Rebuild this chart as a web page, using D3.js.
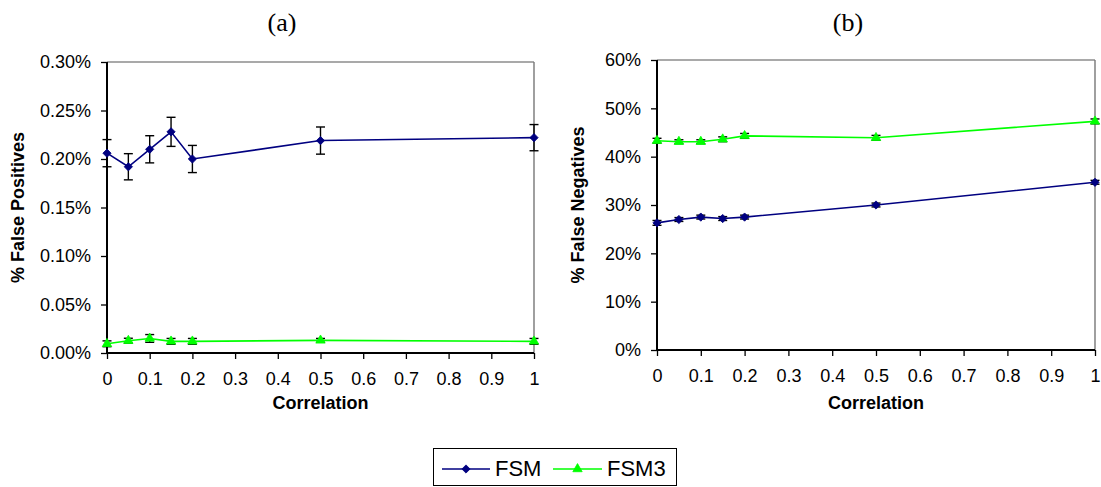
<!DOCTYPE html>
<html>
<head>
<meta charset="utf-8">
<script src="https://cdn.jsdelivr.net/npm/d3@7"></script>
<style>
  html, body { margin: 0; padding: 0; background: #fff; }
  svg { display: block; }
  text { font-family: "Liberation Sans", Arial, sans-serif; fill: #000; }
</style>
</head>
<body>
<svg id="chart" width="1101" height="487"></svg>
<script>
// Correlation levels (x values)
const correlation = [0, 0.05, 0.1, 0.15, 0.2, 0.5, 1];
const xTicks = [0, 0.1, 0.2, 0.3, 0.4, 0.5, 0.6, 0.7, 0.8, 0.9, 1];

// (a) false positive rate, in percent
const fpFSM     = [0.206, 0.192, 0.210, 0.228, 0.200, 0.219, 0.222];
const fpFSMErr  = [0.014, 0.0135, 0.014, 0.015, 0.014, 0.014, 0.0135];
const fpFSM3    = [0.0095, 0.0127, 0.015, 0.012, 0.012, 0.013, 0.012];
const fpFSM3Err = [0.003, 0.0025, 0.004, 0.003, 0.003, 0.002, 0.003];
const fpTicks   = [0, 0.05, 0.10, 0.15, 0.20, 0.25, 0.30];

// (b) false negative rate, in percent
const fnFSM     = [26.3, 27.0, 27.5, 27.2, 27.5, 30.0, 34.7];
const fnFSMErr  = [0.5, 0.4, 0.4, 0.4, 0.4, 0.4, 0.4];
const fnFSM3    = [43.3, 43.1, 43.1, 43.6, 44.3, 43.9, 47.3];
const fnFSM3Err = [0.5, 0.4, 0.4, 0.5, 0.5, 0.5, 0.5];
const fnTicks   = [0, 10, 20, 30, 40, 50, 60];

const seriesNames = ["FSM", "FSM3"];
const seriesColors = ["#000080", "#00FF00"];

const svg = d3.select("#chart");

const diamond = d3.symbol().type(d3.symbolSquare).size(34)();
const triangle = d3.symbol().type(d3.symbolTriangle).size(38)();

function drawMarker(g, type, x, y, color) {
  g.append("path")
    .attr("d", type === 0 ? diamond : triangle)
    .attr("transform", type === 0 ? `translate(${x},${y}) rotate(45)` : `translate(${x},${y})`)
    .attr("fill", color)
    .attr("stroke", color)
    .attr("stroke-width", 0.8);
}

function panel(opts) {
  const { left, right, top, bottom, yMax, yTicks, yFmt, series, yTitle, yTitleX, title, titleX } = opts;
  const x = d3.scaleLinear().domain([0, 1]).range([left, right]);
  const y = d3.scaleLinear().domain([0, yMax]).range([bottom, top]);
  const g = svg.append("g");

  // plot area frame
  g.append("line").attr("x1", left).attr("x2", right).attr("y1", top).attr("y2", top)
    .attr("stroke", "#555").attr("stroke-width", 1.2);
  g.append("line").attr("x1", right).attr("x2", right).attr("y1", top).attr("y2", bottom)
    .attr("stroke", "#777").attr("stroke-width", 1.4);

  // axes
  const yAxis = g.append("g").attr("transform", `translate(${left},0)`)
    .call(d3.axisLeft(y).tickValues(yTicks).tickFormat(yFmt).tickSize(6).tickPadding(10));
  const xAxis = g.append("g").attr("transform", `translate(0,${bottom})`)
    .call(d3.axisBottom(x).tickValues(xTicks).tickFormat(d => String(+d.toFixed(1))).tickSize(6).tickPadding(13));
  [yAxis, xAxis].forEach(a => {
    a.select(".domain").attr("stroke", "#000").attr("stroke-width", 2);
    a.selectAll(".tick line").attr("stroke", "#000").attr("stroke-width", 1.3);
    a.selectAll(".tick text").attr("font-size", 18).attr("font-family", "Liberation Sans, Arial, sans-serif").attr("fill", "#000");
  });
  xAxis.select(".domain").attr("d", `M${left},0H${right}`);
  yAxis.select(".domain").attr("d", `M0,${top}V${bottom}`);

  // series: error bars, line, markers
  series.forEach((s, si) => {
    const color = seriesColors[si];
    const line = d3.line().x((d, i) => x(correlation[i])).y(d => y(d));
    g.append("path").datum(s.values).attr("d", line)
      .attr("fill", "none").attr("stroke", color).attr("stroke-width", 1.6);
    s.values.forEach((v, i) => {
      const cx = x(correlation[i]);
      const y1 = y(v + s.err[i]), y2 = y(v - s.err[i]);
      const eb = g.append("g").attr("stroke", "#000").attr("stroke-width", 1.4);
      eb.append("line").attr("x1", cx).attr("x2", cx).attr("y1", y1).attr("y2", y2);
      eb.append("line").attr("x1", cx - 4.5).attr("x2", cx + 4.5).attr("y1", y1).attr("y2", y1);
      eb.append("line").attr("x1", cx - 4.5).attr("x2", cx + 4.5).attr("y1", y2).attr("y2", y2);
    });
    s.values.forEach((v, i) => drawMarker(g, si, x(correlation[i]), y(v), color));
  });

  // titles
  g.append("text").attr("x", (left + right) / 2).attr("y", 409)
    .attr("text-anchor", "middle").attr("font-weight", "bold").attr("font-size", 18)
    .text("Correlation");
  g.append("text")
    .attr("transform", `translate(${yTitleX},${(top + bottom) / 2}) rotate(-90)`)
    .attr("text-anchor", "middle").attr("font-weight", "bold").attr("font-size", 18)
    .text(yTitle);
  g.append("text").attr("x", titleX).attr("y", 31)
    .attr("text-anchor", "middle").attr("font-size", 26)
    .style("font-family", "'Liberation Serif', 'Times New Roman', serif")
    .text(title);
}

panel({
  left: 107, right: 534, top: 62, bottom: 353, yMax: 0.30,
  yTicks: fpTicks, yFmt: d => d3.format(".2f")(d) + "%",
  series: [{ values: fpFSM, err: fpFSMErr }, { values: fpFSM3, err: fpFSM3Err }],
  yTitle: "% False Positives", yTitleX: 24, title: "(a)", titleX: 282
});

panel({
  left: 657, right: 1095, top: 60, bottom: 350, yMax: 60,
  yTicks: fnTicks, yFmt: d => d3.format(".0f")(d) + "%",
  series: [{ values: fnFSM, err: fnFSMErr }, { values: fnFSM3, err: fnFSM3Err }],
  yTitle: "% False Negatives", yTitleX: 584, title: "(b)", titleX: 848
});

// legend
const lg = svg.append("g");
lg.append("rect").attr("x", 433.5).attr("y", 448.5).attr("width", 243).attr("height", 37)
  .attr("fill", "#fff").attr("stroke", "#000").attr("stroke-width", 1);
const legendItems = [
  { x1: 442, x2: 490, tx: 495 },
  { x1: 553, x2: 602, tx: 607 }
];
legendItems.forEach((it, i) => {
  lg.append("line").attr("x1", it.x1).attr("x2", it.x2).attr("y1", 469).attr("y2", 469)
    .attr("stroke", seriesColors[i]).attr("stroke-width", 1.6);
  drawMarker(lg, i, (it.x1 + it.x2) / 2, 469, seriesColors[i]);
  lg.append("text").attr("x", it.tx).attr("y", 476).attr("font-size", 22).text(seriesNames[i]);
});
</script>
</body>
</html>
